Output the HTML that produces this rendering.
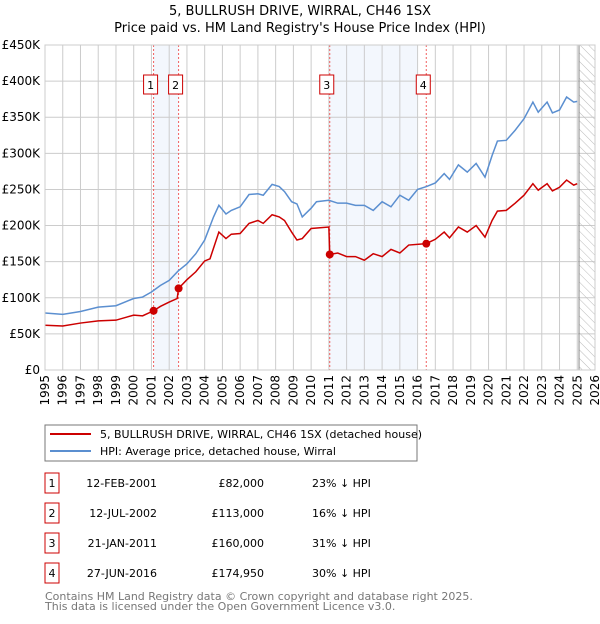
<!DOCTYPE html>
<html><head><meta charset="utf-8"><style>
body{margin:0;background:#fff;font-family:"DejaVu Sans","Liberation Sans",sans-serif;}
svg text{font-family:"DejaVu Sans","Liberation Sans",sans-serif;}
</style></head><body>
<svg id="c" width="600" height="620" xmlns="http://www.w3.org/2000/svg">
<defs><pattern id="hatch" width="6" height="6" patternUnits="userSpaceOnUse" patternTransform="rotate(-45)"><line x1="0" y1="0" x2="0" y2="6" stroke="#bbb" stroke-width="1"/></pattern></defs>
<text x="300" y="15" text-anchor="middle" font-size="13">5, BULLRUSH DRIVE, WIRRAL, CH46 1SX</text>
<text x="300" y="32" text-anchor="middle" font-size="13">Price paid vs. HM Land Registry's House Price Index (HPI)</text>
<g id="grid"></g><g id="marks"></g><g id="axes"></g>
<rect x="45" y="425" width="372" height="36" fill="#fff" stroke="#777"/>
<line x1="50" y1="434" x2="91" y2="434" stroke="#cc0000" stroke-width="2"/>
<text x="100" y="438" font-size="11">5, BULLRUSH DRIVE, WIRRAL, CH46 1SX (detached house)</text>
<line x1="50" y1="451" x2="91" y2="451" stroke="#5b8fd0" stroke-width="2"/>
<text x="100" y="455" font-size="11">HPI: Average price, detached house, Wirral</text>
<g id="table" font-size="11"></g>
<text x="45" y="600" font-size="11" fill="#777">Contains HM Land Registry data © Crown copyright and database right 2025.</text>
<text x="45" y="610" font-size="11" fill="#777">This data is licensed under the Open Government Licence v3.0.</text>
</svg>
<script>
const hpiYears=[1995,1996,1997,1998,1999,2000,2000.5,2001,2001.5,2002,2002.5,2003,2003.5,2004,2004.5,2004.8,2005.2,2005.5,2006,2006.5,2007,2007.3,2007.8,2008.2,2008.5,2008.9,2009.2,2009.5,2010,2010.3,2011,2011.5,2012,2012.5,2013,2013.5,2014,2014.5,2015,2015.5,2016,2016.5,2017,2017.5,2017.8,2018.3,2018.8,2019.3,2019.8,2020.2,2020.5,2021,2021.5,2022,2022.5,2022.8,2023.3,2023.6,2024,2024.4,2024.8,2025];
const hpiValues=[79,77,81,87,89,99,101,108,117,124,137,147,161,180,212,228,216,221,226,243,244,242,257,254,247,233,230,212,224,233,235,231,231,228,228,221,233,226,242,235,250,254,259,272,264,284,274,286,267,297,317,318,332,348,371,357,371,356,360,378,371,372];
const priceYears=[1995,1996,1997,1998,1999,2000,2000.5,2001.12,2001.5,2002,2002.45,2002.53,2003,2003.5,2004,2004.3,2004.8,2005.2,2005.5,2006,2006.5,2007,2007.3,2007.8,2008.2,2008.5,2008.9,2009.2,2009.5,2010,2010.5,2011.0,2011.05,2011.5,2012,2012.5,2013,2013.5,2014,2014.5,2015,2015.5,2016.49,2017,2017.5,2017.8,2018.3,2018.8,2019.3,2019.8,2020.2,2020.5,2021,2021.5,2022,2022.5,2022.8,2023.3,2023.6,2024,2024.4,2024.8,2025];
const priceValues=[62,61,65,68,69,76,75,82,88,94,99,113,125,136,151,154,191,182,188,189,203,207,203,215,212,207,191,180,182,196,197,198,160,162,157,157,152,161,157,167,162,173,175,181,191,183,198,191,200,184,207,220,221,231,242,258,249,258,248,253,263,256,258];
const saleYears=[2001.12,2002.53,2011.05,2016.49];
const saleValues=[82,113,160,174.95];
const saleLabels=["1","2","3","4"];
const saleDates=["12-FEB-2001","12-JUL-2002","21-JAN-2011","27-JUN-2016"];
const salePrices=["£82,000","£113,000","£160,000","£174,950"];
const saleDiffs=["23% ↓ HPI","16% ↓ HPI","31% ↓ HPI","30% ↓ HPI"];
const yTicks=[0,50,100,150,200,250,300,350,400,450];
const yTickLabels=["£0","£50K","£100K","£150K","£200K","£250K","£300K","£350K","£400K","£450K"];
const xTicks=[1995,1996,1997,1998,1999,2000,2001,2002,2003,2004,2005,2006,2007,2008,2009,2010,2011,2012,2013,2014,2015,2016,2017,2018,2019,2020,2021,2022,2023,2024,2025,2026];
const L=45,R=595,T=45,B=370,X0=1995,X1=2026,YMAX=450;
const xs=v=>L+(v-X0)/(X1-X0)*(R-L);
const ys=v=>B-v/YMAX*(B-T);
const NS="http://www.w3.org/2000/svg";
function mk(p,t,a){const e=document.createElementNS(NS,t);for(const k in a)e.setAttribute(k,a[k]);p.appendChild(e);return e;}
const grid=document.getElementById('grid'),marks=document.getElementById('marks'),axes=document.getElementById('axes'),table=document.getElementById('table');
const sh1=mk(grid,'rect',{x:xs(2001.12),y:T,width:xs(2002.53)-xs(2001.12),height:B-T,fill:'#eef3fc',opacity:0.7});


const sh2=mk(grid,'rect',{x:xs(2011.05),y:T,width:xs(2016.0)-xs(2011.05),height:B-T,fill:'#eef3fc',opacity:0.7});


yTicks.forEach((v,i)=>{
 const g=mk(grid,'line',{x1:L,x2:R,y1:ys(v),y2:ys(v),stroke:'#ccc','stroke-width':1});
 
 
 const t=mk(axes,'text',{x:L-5,y:ys(v)+4,'text-anchor':'end','font-size':12});
 t.textContent=yTickLabels[i];
 
 
});
xTicks.forEach(v=>{
 const g=mk(grid,'line',{x1:xs(v),x2:xs(v),y1:T,y2:B,stroke:'#ccc','stroke-width':1});
 
 
 const t=mk(axes,'text',{x:0,y:0,'text-anchor':'end','font-size':12,transform:`translate(${xs(v)+4},${B+5}) rotate(-90)`});
 t.textContent=v;
 
 
});
const hz=mk(grid,'rect',{x:xs(2025.1),y:T,width:R-xs(2025.1),height:B-T,fill:'url(#hatch)'});


const hl=mk(grid,'line',{x1:xs(2025.1),x2:xs(2025.1),y1:T,y2:B,stroke:'#888','stroke-width':1});


saleYears.forEach((y,i)=>{
 const l=mk(grid,'line',{x1:xs(y),x2:xs(y),y1:T,y2:B,stroke:'#f06060','stroke-width':1,'stroke-dasharray':'2,2'});
 
 
 const bx=mk(marks,'rect',{x:xs(y)-10,y:75,width:14,height:19,fill:'#fff',stroke:'#cc0000'});
 
 
 const tx=mk(marks,'text',{x:xs(y)-3,y:89,'text-anchor':'middle','font-size':11});
 tx.textContent=saleLabels[i];
 
 
});
mk(axes,'rect',{x:L,y:T,width:R-L,height:B-T,fill:'none',stroke:'#ccc'});
const hp=mk(marks,'polyline',{points:hpiYears.map((y,i)=>xs(y)+','+ys(hpiValues[i])).join(' '),fill:'none',stroke:'#5b8fd0','stroke-width':1.5});


const pp=mk(marks,'polyline',{points:priceYears.map((y,i)=>xs(y)+','+ys(priceValues[i])).join(' '),fill:'none',stroke:'#cc0000','stroke-width':1.5});


saleYears.forEach((y,i)=>{
 const c=mk(marks,'circle',{cx:xs(y),cy:ys(saleValues[i]),r:4,fill:'#cc0000'});
 
 
 const ry=483+i*30;
 const b=mk(table,'rect',{x:45,y:ry-10,width:14,height:20,fill:'#fff',stroke:'#cc0000'});
 
 
 const cols=[[52,saleLabels[i],'middle'],[157,saleDates[i],'end'],[264,salePrices[i],'end'],[312,saleDiffs[i],'start']];
 const names=['table-index','table-date','table-price','table-hpi-diff'];
 cols.forEach((c2,j)=>{
  const t=mk(table,'text',{x:c2[0],y:ry+4,'text-anchor':c2[2]});
  t.textContent=c2[1];
  
  
 });
});
</script>
</body></html>
